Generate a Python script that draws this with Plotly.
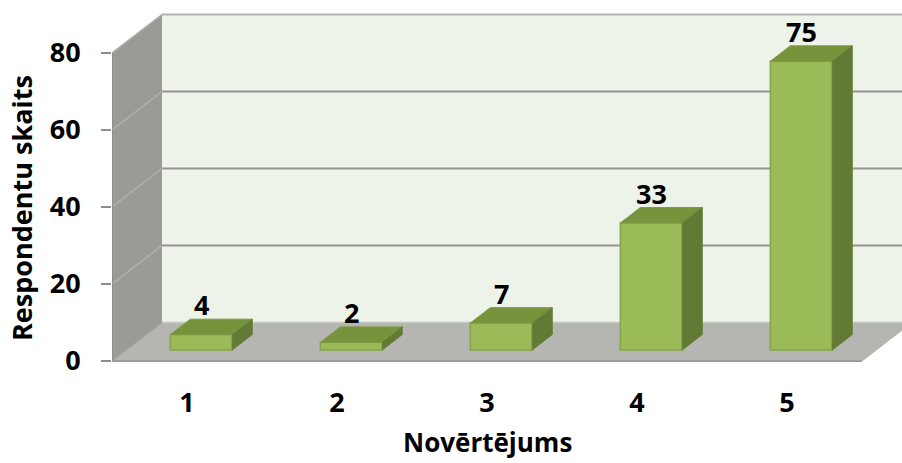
import plotly.graph_objects as go

# Survey results: number of respondents per rating
ratings = [1, 2, 3, 4, 5]
rating_labels = ["1", "2", "3", "4", "5"]
respondents = [4, 2, 7, 33, 75]
y_ticks = [0, 20, 40, 60, 80]

# Oblique projection of the depth axis (in x category units / y value units)
DEPTH_X = 1 / 3
DEPTH_Y = 10
WALL_TOP = 80
X_LO, X_HI = 0.5, 5.5
BAR_FRONT = 0.286      # depth fraction of the bar front faces
BAR_DEPTH = 0.4        # depth fraction occupied by each bar
BAR_WIDTH = 0.413

FRONT = "#9bbb59"
TOP = "#77933c"
SIDE = "#627a33"
EDGE = "#86a54a"
FONT = dict(family="Open Sans", size=27, color="#000000", weight="bold")
TITLE_FONT_X = dict(family="Open Sans", size=26, color="#000000", weight="bold")
TITLE_FONT_Y = dict(family="Open Sans", size=27, color="#000000", weight="bold")

PX_PER_UNIT = 3.85
PLOT_H = 362
ZERO_FROM_BOTTOM = 1

fx = BAR_FRONT * DEPTH_X
fy = BAR_FRONT * DEPTH_Y
bdx = BAR_DEPTH * DEPTH_X
bdy = BAR_DEPTH * DEPTH_Y

fig = go.Figure()

# front faces of the bars
fig.add_trace(go.Bar(
    x=[r + fx for r in ratings],
    y=respondents,
    base=fy,
    width=BAR_WIDTH,
    marker=dict(color=FRONT, line=dict(color=EDGE, width=1.5)),
    hoverinfo="skip",
))

# top and side faces of the bars
top_x, top_y, side_x, side_y = [], [], [], []
for r, v in zip(ratings, respondents):
    xl = r + fx - BAR_WIDTH / 2
    xr = r + fx + BAR_WIDTH / 2
    yb = fy
    yt = v + fy
    top_x += [xl, xr, xr + bdx, xl + bdx, xl, None]
    top_y += [yt, yt, yt + bdy, yt + bdy, yt, None]
    side_x += [xr, xr + bdx, xr + bdx, xr, xr, None]
    side_y += [yb, yb + bdy, yt + bdy, yt, yb, None]

fig.add_trace(go.Scatter(x=top_x, y=top_y, mode="lines", fill="toself",
                         fillcolor=TOP, line=dict(color="#7c9a42", width=1),
                         hoverinfo="skip"))
fig.add_trace(go.Scatter(x=side_x, y=side_y, mode="lines", fill="toself",
                         fillcolor=SIDE, line=dict(color="#66803a", width=1),
                         hoverinfo="skip"))


def path(points):
    return "M " + " L ".join(f"{x},{y}" for x, y in points) + " Z"


shapes = []
# floor
shapes.append(dict(type="path", xref="x", yref="y", layer="below",
                   path=path([(X_LO, 0), (X_HI, 0), (X_HI + DEPTH_X, DEPTH_Y),
                              (X_LO + DEPTH_X, DEPTH_Y)]),
                   fillcolor="#b5b6b1", line=dict(color="#b5b6b1", width=1)))
# left side wall
shapes.append(dict(type="path", xref="x", yref="y", layer="below",
                   path=path([(X_LO, 0), (X_LO, WALL_TOP),
                              (X_LO + DEPTH_X, WALL_TOP + DEPTH_Y),
                              (X_LO + DEPTH_X, DEPTH_Y)]),
                   fillcolor="#9a9b97", line=dict(color="#9a9b97", width=1)))
# back wall
shapes.append(dict(type="path", xref="x", yref="y", layer="below",
                   path=path([(X_LO + DEPTH_X, DEPTH_Y), (X_LO + DEPTH_X, WALL_TOP + DEPTH_Y),
                              (X_HI + DEPTH_X, WALL_TOP + DEPTH_Y),
                              (X_HI + DEPTH_X, DEPTH_Y)]),
                   fillcolor="#eef3ea", line=dict(width=0)))
# gridlines on the back wall and the side wall
for t in y_ticks:
    top_edge = t == WALL_TOP
    col = "#b3b3b3" if top_edge else "#949494"
    if t > 0:
        shapes.append(dict(type="line", xref="x", yref="y", layer="below",
                           x0=X_LO + DEPTH_X, x1=X_HI + DEPTH_X,
                           y0=t + DEPTH_Y, y1=t + DEPTH_Y,
                           line=dict(color=col, width=2.2)))
    shapes.append(dict(type="line", xref="x", yref="y", layer="below",
                       x0=X_LO, x1=X_LO + DEPTH_X, y0=t, y1=t + DEPTH_Y,
                       line=dict(color="#b0b1ad" if t > 0 else "#a3a4a0", width=1.5)))
# floor / back wall seam
shapes.append(dict(type="line", xref="x", yref="y", layer="below",
                   x0=X_LO + DEPTH_X, x1=X_HI + DEPTH_X, y0=DEPTH_Y, y1=DEPTH_Y,
                   line=dict(color="#c4c6c0", width=1.5)))
# front edges: value axis and floor edge
shapes.append(dict(type="line", xref="x", yref="y", layer="below",
                   x0=X_LO, x1=X_LO, y0=0, y1=WALL_TOP,
                   line=dict(color="#8e8f8b", width=2)))
shapes.append(dict(type="line", xref="x", yref="y", layer="below",
                   x0=X_LO, x1=X_HI, y0=0, y1=0,
                   line=dict(color="#9c9d99", width=2)))

# value labels above each bar
annotations = []
for r, v in zip(ratings, respondents):
    annotations.append(dict(x=r + fx, y=v + fy + bdy, xref="x", yref="y",
                            text=str(v), showarrow=False, yanchor="middle",
                            yshift=14.5, font=FONT))

# axis titles
annotations.append(dict(text="Respondentu skaits", textangle=-90, showarrow=False,
                        xref="paper", yref="paper", x=0, y=1 - 208 / PLOT_H,
                        xanchor="center", yanchor="middle", xshift=-91,
                        font=TITLE_FONT_Y))
annotations.append(dict(text="Novērtējums", showarrow=False,
                        xref="x", yref="paper", x=(X_LO + X_HI) / 2, y=0,
                        xanchor="center", yanchor="bottom", yshift=-100,
                        font=TITLE_FONT_X))

y_lo = -ZERO_FROM_BOTTOM / PX_PER_UNIT
y_hi = (PLOT_H - ZERO_FROM_BOTTOM) / PX_PER_UNIT

fig.update_layout(
    width=902, height=463,
    margin=dict(l=112, r=0, t=0, b=463 - PLOT_H, pad=0),
    paper_bgcolor="white", plot_bgcolor="white",
    showlegend=False, hovermode=False,
    shapes=shapes, annotations=annotations,
    font=FONT,
    xaxis=dict(range=[X_LO, X_LO + 790 / 150], tickvals=ratings, ticktext=rating_labels,
               showgrid=False, zeroline=False, showline=False, ticks="",
               tickfont=FONT, ticklabelstandoff=22),
    yaxis=dict(range=[y_lo, y_hi], tickvals=y_ticks,
               showgrid=False, zeroline=False, showline=False,
               ticks="outside", ticklen=10, tickwidth=2, tickcolor="#8e8f8b",
               tickfont=FONT, ticklabelstandoff=15),
)

fig.write_html("out.html")
